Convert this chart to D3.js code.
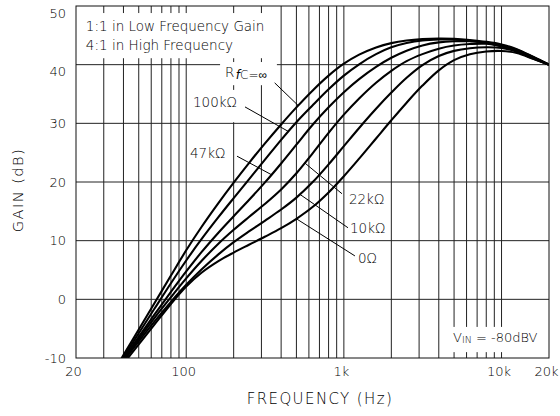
<!DOCTYPE html>
<html>
<head>
<meta charset="utf-8">
<script src="https://cdn.jsdelivr.net/npm/d3@7"></script>
<style>
  body { margin: 0; background: #fff; }
  svg text { font-family: 'DejaVu Sans', sans-serif; font-weight: 300; fill: #000; }
</style>
</head>
<body>
<svg width="560" height="416"></svg>
<script>
// frequency samples (Hz), shared by all six curves
const freqHz = [38, 40, 50, 63, 80, 100, 125, 160, 200, 250, 315, 400, 500, 630, 800,
  1000, 1250, 1600, 2000, 2500, 3150, 4000, 5000, 6300, 8000, 10000, 12500, 16000, 20000];

// gain (dB), one array per R_FC value
const gainInf = [-10.5, -9.5, -5.14, -0.62, 4.05, 8.36, 12.33, 16.4, 19.89, 23.23, 26.54, 29.81, 32.72, 35.53, 38.13,
  40.16, 41.71, 42.94, 43.67, 44.11, 44.36, 44.46, 44.41, 44.21, 43.9, 43.45, 42.65, 41.3, 40.0];
const gain100k = [-10.8, -9.86, -5.79, -1.57, 2.74, 6.62, 10.25, 14.0, 17.25, 20.45, 23.76, 27.19, 30.19, 33.0, 35.8,
  38.13, 40.07, 41.79, 42.95, 43.68, 44.13, 44.29, 44.29, 44.05, 43.75, 43.3, 42.55, 41.25, 40.0];
const gain47k = [-10.98, -10.13, -6.4, -2.58, 1.26, 4.75, 8.04, 11.36, 14.17, 16.93, 19.89, 23.16, 26.36, 29.67, 32.73,
  35.3, 37.53, 39.62, 41.17, 42.38, 43.28, 43.8, 43.99, 43.99, 43.72, 43.2, 42.48, 41.2, 40.0];
const gain22k = [-11.18, -10.36, -6.77, -3.16, 0.37, 3.57, 6.53, 9.48, 11.85, 14.03, 16.24, 18.73, 21.49, 24.8, 28.38,
  31.48, 34.24, 36.92, 38.95, 40.6, 41.8, 42.73, 43.26, 43.51, 43.56, 43.1, 42.4, 41.1, 40.0];
const gain10k = [-11.34, -10.56, -7.17, -3.76, -0.44, 2.47, 5.09, 7.66, 9.74, 11.58, 13.39, 15.31, 17.34, 19.9, 23.01,
  26.11, 29.21, 32.48, 35.24, 37.76, 39.92, 41.48, 42.35, 42.8, 42.96, 42.85, 42.2, 41.0, 40.0];
const gain0 = [-11.72, -10.97, -7.68, -4.27, -0.79, 2.17, 4.54, 6.52, 7.97, 9.3, 10.66, 12.13, 13.73, 15.69, 18.23,
  20.99, 23.99, 27.42, 30.52, 33.52, 36.43, 39.03, 40.77, 41.77, 42.24, 42.33, 42.0, 40.95, 40.0];

const seriesNames = ['inf', '100k', '47k', '22k', '10k', '0'];
const seriesGains = [gainInf, gain100k, gain47k, gain22k, gain10k, gain0];

const gainTicks = [-10, 0, 10, 20, 30, 40, 50];
const freqTicks = [20, 100, 1000, 10000, 20000];
const freqTickLabels = ['20', '100', '1k', '10k', '20k'];

const svg = d3.select('svg'),
  margin = {top: 6, right: 11, bottom: 58, left: 76},
  width = +svg.attr('width') - margin.left - margin.right,
  height = +svg.attr('height') - margin.top - margin.bottom;

const x = d3.scaleLog().domain([20, 20000]).range([0, width]);
const y = d3.scaleLinear().domain([-10, 50]).range([height, 0]);

const g = svg.append('g')
  .attr('transform', 'translate(' + margin.left + ',' + margin.top + ')');

g.append('defs').append('clipPath')
  .attr('id', 'plot-clip')
  .append('rect')
  .attr('width', width)
  .attr('height', height);

// grid
const grid = g.append('g').attr('stroke', '#222').attr('stroke-width', 1);
grid.selectAll('.vgrid')
  .data(x.ticks().filter(function(f) { return f > 20 && f < 20000; }))
  .enter().append('line')
  .attr('x1', function(d) { return x(d); })
  .attr('x2', function(d) { return x(d); })
  .attr('y1', 0)
  .attr('y2', height);
grid.selectAll('.hgrid')
  .data(gainTicks.slice(1, -1))
  .enter().append('line')
  .attr('x1', 0)
  .attr('x2', width)
  .attr('y1', function(d) { return y(d); })
  .attr('y2', function(d) { return y(d); });

// white boxes behind the notes, [f0, f1, g0, g1]
const boxes = [
  [20, 360, 41.1, 48.8],
  [164, 376, 36.5, 40.45],
  [107, 219, 30.2, 35.7],
  [4505, 19680, -9.0, -4.7]
];
g.append('g').selectAll('rect')
  .data(boxes)
  .enter().append('rect')
  .attr('fill', '#fff')
  .attr('x', function(d) { return x(d[0]); })
  .attr('width', function(d) { return x(d[1]) - x(d[0]); })
  .attr('y', function(d) { return y(d[3]); })
  .attr('height', function(d) { return y(d[2]) - y(d[3]); });

// curves
const line = d3.line()
  .curve(d3.curveCatmullRom.alpha(0.5))
  .x(function(d) { return x(d[0]); })
  .y(function(d) { return y(d[1]); });

const paths = g.append('g')
  .attr('clip-path', 'url(#plot-clip)')
  .selectAll('path')
  .data(seriesGains.map(function(gains) {
    return freqHz.map(function(f, i) { return [f, gains[i]]; });
  }))
  .enter().append('path')
  .attr('fill', 'none')
  .attr('stroke', '#000')
  .attr('stroke-width', 2.1)
  .attr('d', line);

// border
g.append('rect')
  .attr('width', width)
  .attr('height', height)
  .attr('fill', 'none')
  .attr('stroke', '#111')
  .attr('stroke-width', 1);

// axes
const yAxis = g.append('g')
  .call(d3.axisLeft(y).tickValues(gainTicks).tickSize(0).tickPadding(10)
    .tickFormat(function(d) { return String(d); }));
yAxis.select('.domain').remove();
yAxis.selectAll('text')
  .attr('dy', function(d) { return d >= 40 ? '0.85em' : '0.32em'; })
  .style('font-size', '13px');

const xAxis = g.append('g')
  .attr('transform', 'translate(0,' + height + ')')
  .call(d3.axisBottom(x).tickValues(freqTicks).tickSize(0).tickPadding(9)
    .tickFormat(function(d, i) { return freqTickLabels[i]; }));
xAxis.select('.domain').remove();
xAxis.selectAll('text')
  .attr('dx', -3)
  .style('font-size', '13px');

svg.append('text')
  .attr('x', 320)
  .attr('y', 404)
  .attr('text-anchor', 'middle')
  .style('font-size', '15px')
  .style('letter-spacing', '1.4px')
  .text('FREQUENCY  (Hz)');

svg.append('text')
  .attr('transform', 'translate(23,190) rotate(-90)')
  .attr('text-anchor', 'middle')
  .style('font-size', '14.5px')
  .style('letter-spacing', '1.5px')
  .text('GAIN (dB)');

// notes
const note = g.append('g').style('font-size', '13.5px');
note.append('text').attr('x', x(23.1)).attr('y', y(45.8)).text('1:1 in Low Frequency Gain');
note.append('text').attr('x', x(23.1)).attr('y', y(42.5)).text('4:1 in High Frequency');

const vin = g.append('text')
  .attr('x', x(4920)).attr('y', y(-7.27))
  .style('font-size', '13px');
vin.append('tspan').text('V');
vin.append('tspan').style('font-size', '9.5px').attr('dy', 1).text('IN');
vin.append('tspan').attr('dy', -1).text(' = -80dBV');

// point of a drawn curve at pixel column px
function pointOnPath(node, px) {
  let lo = 0, hi = node.getTotalLength();
  for (let k = 0; k < 30; k++) {
    const mid = (lo + hi) / 2;
    if (node.getPointAtLength(mid).x < px) lo = mid; else hi = mid;
  }
  return node.getPointAtLength(lo);
}

// [text f, text g, leader start f, leader start g, leader end f on the curve]
const labelPos = {
  'inf': [176, 37.9, 364, 36.9, 513],
  '100k': [110.4, 32.8, 236, 32.8, 444],
  '47k': [105.7, 24.1, 210, 24.4, 348],
  '22k': [1077, 16.25, 973, 18.0, 566],
  '10k': [1093, 11.3, 1062, 12.2, 527],
  '0': [1228, 6.2, 1175, 7.4, 500]
};

const labels = g.append('g').style('font-size', '13.5px');
paths.each(function(d, i) {
  const name = seriesNames[i], p = labelPos[name];
  const end = pointOnPath(this, x(p[4]));
  labels.append('line')
    .attr('x1', x(p[2])).attr('y1', y(p[3]))
    .attr('x2', end.x).attr('y2', end.y)
    .attr('stroke', '#000')
    .attr('stroke-width', 1);
  const t = labels.append('text').attr('x', x(p[0])).attr('y', y(p[1]));
  if (name === 'inf') {
    t.append('tspan').text('R');
    const sub = t.append('tspan').attr('dx', 1.5).attr('dy', 2).style('font-size', '12px');
    sub.append('tspan').style('font-style', 'italic').text('f');
    sub.append('tspan').text('C=\u221e');
  } else {
    t.text(name + '\u03a9');
  }
});
</script>
</body>
</html>
